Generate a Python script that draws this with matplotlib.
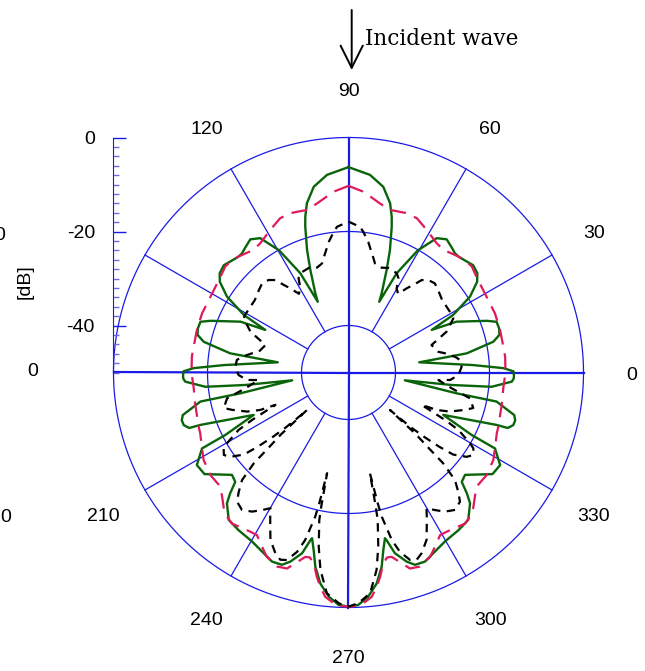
import numpy as np
import matplotlib.pyplot as plt
from matplotlib.ticker import MultipleLocator
from matplotlib.transforms import offset_copy

plt.rcParams['font.family'] = ['Liberation Sans', 'DejaVu Sans']
plt.rcParams['axes.unicode_minus'] = False

green_deg = [90, 83.8, 79.4, 76.2, 74.5, 73.5, 71.3, 69.6, 67.3, 66.5, 64.1, 60.4, 56.7, 53.6, 50.5,
             48.2, 46.5, 43.2, 40.7, 37.6, 35.2, 32, 28.8, 27.1, 25.2, 20.5, 18.9, 16.3, 14, 12,
             9.2, 8.2, 3.4, 1.6, 0.4, -0.9, -2.0, -3.2, -5.7, -6.9, -7.9, -10.9, -11.1, -14.4,
             -16, -17.7, -19.2, -19.5, -24.1, -26.9, -27.4, -31.4, -35.2, -41.3, -44, -45.6,
             -47.1, -50.9, -55.1, -60.3, -64.2, -68, -70.9, -72.9, -75.6, -77.2, -77.6, -78.9,
             -80.3, -82.4, -85, -87.6, -90]
green_db = [-6.3, -7.7, -9.8, -12.9, -15.6, -17.6, -22.5, -26.7, -31.7, -33.6, -26.5, -20.1, -15.8,
            -14.8, -15.5, -16.0, -16.0, -15.5, -15.0, -15.4, -16.5, -19.5, -24.6, -30.1, -24.6,
            -18.6, -16.7, -16.6, -16.9, -18.5, -24.5, -34.8, -23.4, -17.0, -14.9, -14.8, -14.8,
            -15.2, -19.4, -27.9, -37.9, -26.6, -17.9, -13.6, -13.1, -13.2, -14.1, -16.6, -27.9,
            -20.6, -14.9, -12.2, -12.5, -17.0, -16.5, -14.0, -12.0, -9.6, -9.1, -8.6, -7.7, -6.6,
            -6.7, -7.9, -10.3, -13.4, -13.9, -11.5, -8.1, -4.7, -2.1, -0.5, -0.2]

red_deg = [90, 85.3, 79.5, 75.7, 69.9, 66.1, 61.2, 58.5, 55.7, 52.3, 46.5, 42.3, 40.7, 36.8, 31.5,
           28.7, 22, 15.7, 9.5, 5.8, 0, -5.8, -11.4, -19.9, -22.3, -27.4, -31.1, -36.6, -41.7,
           -44.5, -47.4, -49.9, -52.3, -55.6, -58.3, -60.6, -63.3, -66.1, -69.8, -72.6, -75.6,
           -76.8, -78.2, -79.7, -81.2, -82.5, -84.1, -87.2, -90]
red_db = [-10.3, -11.4, -13.4, -14.3, -13.9, -14.1, -15.4, -16.1, -16.7, -17.0, -16.0, -15.5, -15.4,
          -16.0, -16.4, -16.5, -16.4, -16.5, -16.6, -16.5, -16.6, -16.9, -16.7, -16.1, -15.9,
          -14.9, -14.0, -13.4, -13.5, -12.3, -10.8, -9.9, -9.4, -9.9, -10.2, -10.3, -8.8, -7.1,
          -6.0, -6.3, -8.8, -9.7, -9.8, -8.7, -6.0, -4.0, -2.0, -0.3, -0.2]

black_deg = [90, 85.5, 84, 81.4, 77.7, 76.4, 73.3, 69.2, 64.1, 62.1, 60.2, 57.8, 55.3, 53.5, 51.6,
             49.2, 45.9, 42.6, 37.8, 29.1, 27.3, 22.6, 18.3, 13, 11.3, 8.4, 6.4, 2.9, -1.3, -4.2,
             -4.8, -8.7, -12, -15.9, -17.8, -21.1, -23, -23.9, -26.2, -27.6, -30.2, -31.3, -33.5,
             -35.5, -38.1, -39.3, -40.4, -41.2, -41.8, -42.1, -42.5, -43.3, -43.8, -45.3, -47.4,
             -49.2, -52.2, -55.3, -57.8, -60.1, -61.5, -63.1, -65, -68, -70, -71.8, -74, -75.5,
             -76.2, -77, -77.4, -78, -78.5, -78.8, -80.3, -81.9, -84.4, -87.6, -90]
black_db = [-17.9, -18.9, -19.9, -21.9, -25.1, -26.1, -26.7, -26.2, -26.5, -27.3, -29.4, -30.2, -28.2,
            -26.8, -24.9, -24.0, -23.6, -24.1, -24.8, -24.8, -24.9, -27.4, -31.4, -30.4, -29.1,
            -27.1, -26.1, -25.9, -26.6, -28.3, -30.8, -27.8, -23.6, -22.4, -24.0, -26.9, -29.6,
            -33.0, -27.1, -23.6, -20.1, -18.9, -18.2, -19.1, -21.7, -25.1, -28.9, -32.1, -35.9,
            -38.1, -30.6, -26.5, -22.1, -17.8, -15.5, -13.7, -13.0, -14.0, -15.4, -16.7, -15.1,
            -13.2, -10.7, -8.5, -7.6, -8.0, -10.3, -13.2, -15.9, -18.5, -21.5, -28.1, -21.0,
            -18.0, -12.4, -7.6, -2.8, -0.85, -0.2]

rings_db = [-40, -20, 0]
spokes_deg = [30, 60, 120, 150, 210, 240, 300, 330]
axes_deg = [0, 90, 180, 270]
angle_ticks = [0, 30, 60, 90, 120, 210, 240, 270, 300, 330]
angle_labels = ['0', '30', '60', '90', '120', '210', '240', '270', '300', '330']
db_ticks = [0, -20, -40]
db_labels = ['0', '-20', '-40']


def mirror(deg, db):
    deg = np.asarray(deg, float)
    db = np.asarray(db, float)
    th = np.concatenate([deg, 180 - deg[::-1]])
    return np.radians(th), np.concatenate([db, db[::-1]])


W, H = 645, 671
cx, cy, R = 348.5, 372.5, 235
GRID = '#1a1ae6'

fig = plt.figure(figsize=(W / 100, H / 100), dpi=100)
ax = fig.add_axes([(cx - R) / W, (H - cy - R) / H, 2 * R / W, 2 * R / H], projection='polar')
ax.set_ylim(-50, 0)
ax.grid(False)
ax.set_xticks([])
ax.set_yticks([])
ax.spines['polar'].set_visible(False)
ax.patch.set_alpha(0)

# grid
circ = np.linspace(0, 2 * np.pi, 500)
for r in rings_db:
    ax.plot(circ, np.full_like(circ, r), color=GRID, lw=0.9, clip_on=False)
for a in spokes_deg:
    ax.plot([np.radians(a)] * 2, [-40, 0], color=GRID, lw=0.9, clip_on=False)
for a in axes_deg:
    ax.plot([np.radians(a)] * 2, [-50, 0], color=GRID, lw=1.6, clip_on=False)

# curves
th, db = mirror(green_deg, green_db)
ax.plot(th, db, color='#0a640a', lw=1.7, zorder=3, clip_on=False, solid_joinstyle='round')
th, db = mirror(red_deg, red_db)
ax.plot(th, db, color='#e0195a', lw=1.6, dashes=(7, 4), zorder=4, clip_on=False)
th, db = mirror(black_deg, black_db)
ax.plot(th, db, color='black', lw=1.6, dashes=(3.8, 2.9), zorder=5, clip_on=False)

lab_tr = offset_copy(ax.transData, fig=fig, x=0, y=-2.5, units='dots')
for a, lab in zip(angle_ticks, angle_labels):
    ax.text(np.radians(a), 10.3, lab, ha='center', va='center', fontsize=14, clip_on=False,
            transform=lab_tr)

# dB scale on the left
dbax = fig.add_axes([113 / W, (H - cy) / H, 0.02, R / H])
dbax.set_ylim(-50, 0)
dbax.set_xlim(0, 1)
for s in ['top', 'right', 'bottom']:
    dbax.spines[s].set_visible(False)
dbax.spines['left'].set_color(GRID)
dbax.patch.set_alpha(0)
dbax.set_xticks([])
dbax.set_yticks(db_ticks)
dbax.set_yticklabels(db_labels)
dbax.yaxis.set_minor_locator(MultipleLocator(2))
dbax.tick_params(axis='y', which='major', direction='in', length=9, width=1, color=GRID,
                 pad=13, labelsize=14)
dbax.tick_params(axis='y', which='minor', direction='in', length=4.5, width=1, color='#6c6ce8')

fig.text(25 / W, 1 - 282 / H, '[dB]', rotation=90, ha='center', va='center', fontsize=14)

# cut-off labels at the left edge, as in the source picture
fig.text(5 / W, 1 - 235 / H, '0', ha='right', va='center', fontsize=14)
fig.text(38 / W, 1 - 372 / H, '0', ha='right', va='center', fontsize=14)
fig.text(11 / W, 1 - 518 / H, '0', ha='right', va='center', fontsize=14)

# incident wave arrow
fig.text(365 / W, 1 - 45 / H, 'Incident wave', family='DejaVu Serif', fontsize=15.5,
         ha='left', va='baseline')
ax.annotate('', xy=(351.7 / W, 1 - 70 / H), xytext=(351.7 / W, 1 - 10 / H),
            xycoords='figure fraction', textcoords='figure fraction',
            arrowprops=dict(arrowstyle='->,head_length=1.6,head_width=0.8', lw=1.4,
                            color='black', shrinkA=0, shrinkB=0))

fig.savefig('out.png', dpi=100)
